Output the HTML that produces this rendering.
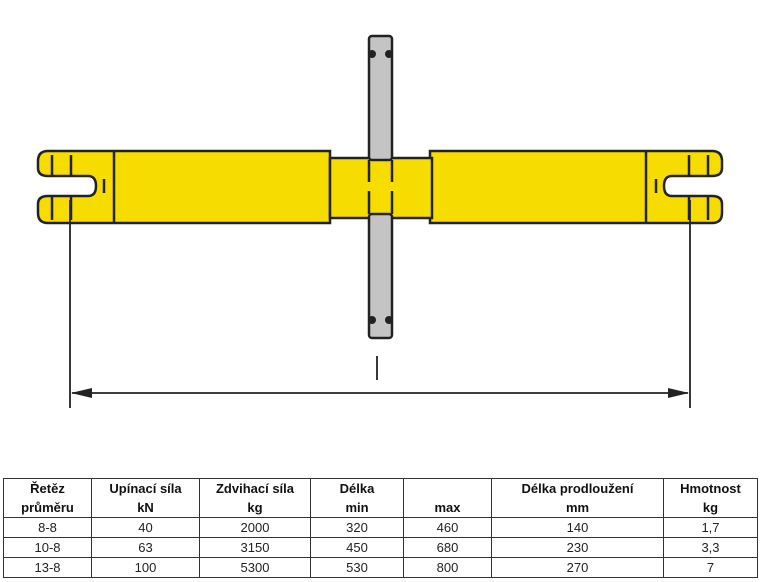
<!DOCTYPE html>
<html><head><meta charset="utf-8"><style>
body{margin:0;width:760px;height:582px;background:#fff;position:relative;overflow:hidden;font-family:"Liberation Sans",sans-serif}
svg{position:absolute;left:0;top:0}
table{position:absolute;left:3px;top:478px;border-collapse:collapse;font-size:13px;width:754px;table-layout:fixed}
td{border-left:1px solid #333;border-right:1px solid #333;text-align:center;height:19px;padding:0;color:#222}
tr.d td{border-top:1px solid #333}
tr.h td{font-weight:bold;color:#111}
table{border:1px solid #333}
</style></head><body>
<svg width="760" height="470" viewBox="0 0 760 470">
<g stroke="#222" stroke-width="2.5" fill="#f7dc00">
<!-- left body -->
<path d="M48 151 H330 V223 H48 Q38 223 38 213 V204 Q38 196 48 196 H88 Q96 196 96 186 Q96 176 88 176 H48 Q38 176 38 168 V161 Q38 151 48 151 Z"/>
<!-- right body -->
<path d="M712 151 H430 V223 H712 Q722 223 722 213 V204 Q722 196 712 196 H672 Q664 196 664 186 Q664 176 672 176 H712 Q722 176 722 168 V161 Q722 151 712 151 Z"/>
<rect x="330" y="158" width="102" height="60"/>
</g>
<g stroke="#222" stroke-width="2.5" fill="none">
<line x1="52" y1="155" x2="52" y2="176"/><line x1="52" y1="196" x2="52" y2="220"/>
<line x1="71" y1="155" x2="71" y2="176"/><line x1="71" y1="196" x2="71" y2="220"/>
<line x1="114" y1="151" x2="114" y2="223"/>
<line x1="104" y1="179" x2="104" y2="193"/>
<line x1="708" y1="155" x2="708" y2="176"/><line x1="708" y1="196" x2="708" y2="220"/>
<line x1="689" y1="155" x2="689" y2="176"/><line x1="689" y1="196" x2="689" y2="220"/>
<line x1="646" y1="151" x2="646" y2="223"/>
<line x1="656" y1="179" x2="656" y2="193"/>
</g>
<rect x="369" y="36" width="23" height="124" rx="3" fill="#c4c4c4" stroke="#222" stroke-width="2.5"/>
<rect x="369" y="214" width="23" height="124" rx="3" fill="#c4c4c4" stroke="#222" stroke-width="2.5"/>
<g stroke="#222" stroke-width="2.5">
<line x1="369" y1="160" x2="369" y2="182"/><line x1="392" y1="160" x2="392" y2="182"/>
<line x1="369" y1="191" x2="369" y2="214"/><line x1="392" y1="191" x2="392" y2="214"/>
</g>
<g fill="#222"><circle cx="372" cy="54" r="4"/><circle cx="389" cy="54" r="4"/><circle cx="372" cy="320" r="4"/><circle cx="389" cy="320" r="4"/></g>
<g stroke="#222" stroke-width="1.8" fill="none">
<line x1="70" y1="200" x2="70" y2="408"/>
<line x1="690" y1="200" x2="690" y2="408"/>
<line x1="72" y1="393" x2="688" y2="393"/>
<line x1="377" y1="356" x2="377" y2="380"/>
</g>
<path d="M71 393 L92 388 L92 398 Z" fill="#222"/>
<path d="M689 393 L668 388 L668 398 Z" fill="#222"/>
</svg>
<table>
<colgroup><col style="width:88px"><col style="width:108px"><col style="width:111px"><col style="width:93px"><col style="width:88px"><col style="width:172px"><col style="width:94px"></colgroup>
<tr class="h"><td>Řetěz</td><td>Upínací síla</td><td>Zdvihací síla</td><td>Délka</td><td></td><td>Délka prodloužení</td><td>Hmotnost</td></tr>
<tr class="h"><td>průměru</td><td>kN</td><td>kg</td><td>min</td><td>max</td><td>mm</td><td>kg</td></tr>
<tr class="d"><td>8-8</td><td>40</td><td>2000</td><td>320</td><td>460</td><td>140</td><td>1,7</td></tr>
<tr class="d"><td>10-8</td><td>63</td><td>3150</td><td>450</td><td>680</td><td>230</td><td>3,3</td></tr>
<tr class="d"><td>13-8</td><td>100</td><td>5300</td><td>530</td><td>800</td><td>270</td><td>7</td></tr>
</table>
</body></html>
